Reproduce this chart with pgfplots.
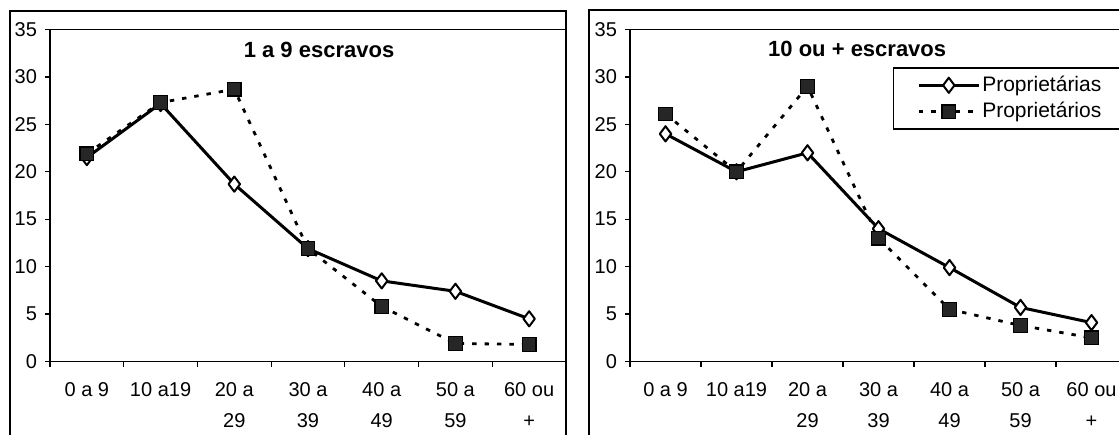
\documentclass[border=0pt]{standalone}
\usepackage{pgfplots}
\usepackage{pgfplotstable}
\pgfplotsset{compat=1.18}
\usepackage{fontspec}
\setmainfont{Liberation Sans}

% Share of owners by age group (%)
\pgfplotstableread{
idx fem masc
0 21.5 21.9
1 27.2 27.3
2 18.7 28.7
3 11.9 11.9
4 8.5 5.8
5 7.4 1.9
6 4.5 1.8
}\smallholdings

\pgfplotstableread{
idx fem masc
0 24.0 26.1
1 20.0 20.0
2 22.0 29.0
3 14.0 13.0
4 9.9 5.5
5 5.7 3.8
6 4.1 2.5
}\largeholdings

\pgfplotsset{
  agechart/.style={
    scale only axis,
    height=166pt,
    xmin=-0.5, xmax=6.5,
    ymin=0, ymax=35,
    ytick={0,5,...,35},
    xtick={0,...,6},
    xticklabels={0 a 9, 10 a19, {20 a\\29}, {30 a\\39}, {40 a\\49}, {50 a\\59}, {60 ou\\+}},
    minor xtick={-0.5,0.5,...,6.5},
    major x tick style={draw=none},
    tick align=outside,
    major tick length=2.5pt,
    minor tick length=2.5pt,
    tick style={black, line width=0.6pt},
    xtick pos=bottom, ytick pos=left,
    axis line style={black, line width=0.6pt},
    /pgf/number format/assume math mode=true,
    tick label style={font=\fontsize{10}{15.5}\selectfont},
    x tick label style={align=center, yshift=-4.5pt},
    y tick label style={xshift=-0.5pt},
    clip=false,
    legend image code/.code={
      \draw[mark repeat=2, mark phase=2] plot coordinates {(0pt,0pt) (15pt,0pt) (30pt,0pt)};
    },
  },
  fem/.style={black, line width=1.5pt, line join=round, mark=diamond*, mark size=3.8pt,
    mark options={fill=white, solid, line width=1pt}},
  masc/.style={black, line width=1.4pt, dash pattern=on 2.2pt off 4pt, mark=square*, mark size=3.4pt,
    mark options={fill=black!85, solid, line width=0.6pt}},
}

\begin{document}
\begin{tikzpicture}
\useasboundingbox (0,0) rectangle (559.5pt,217pt);
\begin{scope}
\clip (0,0) rectangle (559.5pt,217pt);

% outer frames of the two charts
\draw[line width=0.6pt] (5pt,-10pt) -- (5pt,211.5pt) -- (283pt,211.5pt) -- (283pt,-10pt);
\draw[line width=0.6pt] (294.5pt,-10pt) -- (294.5pt,212pt) -- (600pt,212pt);

\begin{axis}[agechart, at={(25pt,36.25pt)}, anchor=south west, width=258pt]
  \addplot[fem] table[x=idx, y=fem] {\smallholdings};
  \addplot[masc] table[x=idx, y=masc] {\smallholdings};
  \node[font=\fontsize{11}{13}\selectfont\bfseries] at (axis cs:3.15,32.8) {1 a 9 escravos};
\end{axis}

\begin{axis}[agechart, at={(315pt,36.25pt)}, anchor=south west, width=248.5pt,
  legend style={at={(axis cs:3.2,31)}, anchor=north west, draw=black, line width=0.6pt,
    font=\fontsize{10.5}{12}\selectfont, inner xsep=12pt, inner ysep=2pt, row sep=0pt,
    cells={anchor=west}, nodes={inner xsep=1pt}},
  legend cell align=left]
  \addplot[fem] table[x=idx, y=fem] {\largeholdings};
  \addlegendentry{Proprietárias}
  \addplot[masc] table[x=idx, y=masc] {\largeholdings};
  \addlegendentry{Proprietários}
  \node[font=\fontsize{11}{13}\selectfont\bfseries] at (axis cs:2.7,33.0) {10 ou + escravos};
\end{axis}
\end{scope}
\end{tikzpicture}
\end{document}
